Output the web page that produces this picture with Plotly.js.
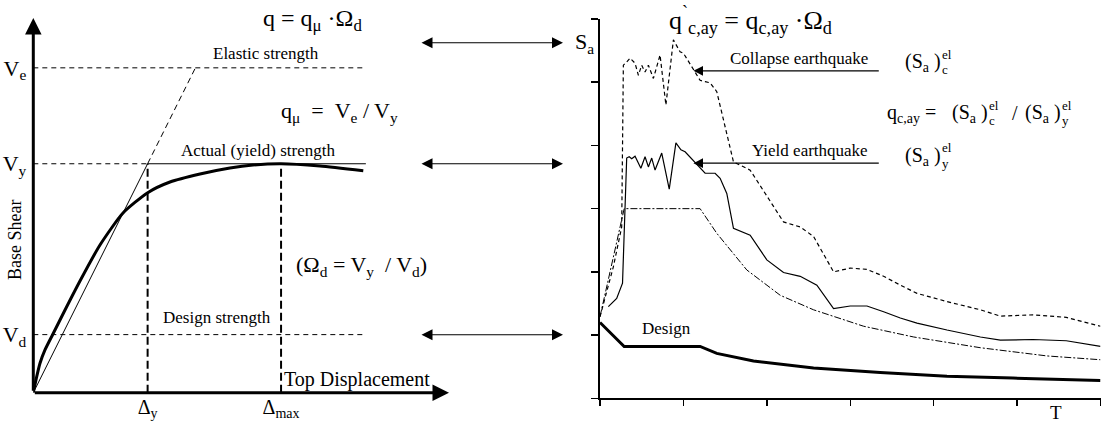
<!DOCTYPE html>
<html><head><meta charset="utf-8">
<script src="https://cdn.plot.ly/plotly-3.0.1.min.js"></script>
<style>html,body{margin:0;padding:0;background:#fff}</style>
</head><body><div id="chart" style="width:1115px;height:425px"></div>
<script>
// ---------- Left panel: capacity (pushover) curve, arbitrary units ----------
const levelNames  = ['V<sub>d</sub>', 'V<sub>y</sub>', 'V<sub>e</sub>'];
const levelValues = [15.5, 61.1, 86.7];          // design, yield, elastic base shear
const dispNames   = ['Δ<sub>y</sub>', 'Δ<sub>max</sub>'];
const dispValues  = [27.5, 59.6];                // yield & max top displacement
const levelLineEnd = 80;                         // end of the strength lines
const elasticTopDisp = 39.0;                     // elastic line reaching Ve
const capDisp  = [0, 0.82, 1.61, 2.81, 4.67, 7.63, 11.23, 16.04, 21.58, 27.52, 32.88, 40.1, 47.31, 52.84, 59.59, 68.97, 79.38];
const capShear = [0, 4.27, 7.85, 11.41, 15.53, 22.07, 29.81, 39.42, 47.96, 53.38, 56.23, 58.37, 59.97, 60.77, 61.12, 60.5, 59.25];

// ---------- Right panel: acceleration spectra Sa(T) ----------
const designT  = [0, 0.29, 1.2, 1.4, 1.84, 2.56, 3.36, 4.16, 4.95, 6.0];
const designSa = [1.2, 0.82, 0.82, 0.71, 0.59, 0.48, 0.41, 0.35, 0.32, 0.28];
const elasticT  = [0, 0.29, 1.2, 1.4, 1.76, 2.16, 2.56, 3.16, 3.76, 4.56, 5.36, 6.0];
const elasticSa = [1.29, 3.0, 3.0, 2.61, 2.03, 1.63, 1.4, 1.14, 0.97, 0.8, 0.67, 0.61];
const yieldT  = [0.1, 0.2, 0.27, 0.31, 0.32, 0.35, 0.38, 0.42, 0.49, 0.54, 0.58, 0.62, 0.66, 0.74, 0.83, 0.91, 0.97, 1.02, 1.15, 1.26, 1.38, 1.44, 1.52, 1.6, 1.8, 2.0, 2.2, 2.4, 2.6, 2.8, 3.0, 3.2, 3.4, 3.6, 3.8, 4.16, 4.56, 4.8, 5.19, 5.59, 6.0];
const yieldSa = [1.45, 1.58, 1.82, 3.69, 3.8, 3.82, 3.79, 3.83, 3.64, 3.82, 3.66, 3.8, 3.61, 3.88, 3.31, 4.04, 3.93, 3.9, 3.72, 3.56, 3.56, 3.48, 3.24, 2.69, 2.58, 2.19, 1.99, 1.93, 1.79, 1.42, 1.46, 1.46, 1.37, 1.27, 1.19, 1.08, 0.97, 0.92, 0.93, 0.91, 0.82];
const collapseT  = [0, 0.16, 0.26, 0.28, 0.32, 0.36, 0.42, 0.46, 0.5, 0.54, 0.58, 0.64, 0.72, 0.79, 0.88, 0.96, 1.0, 1.12, 1.2, 1.26, 1.32, 1.4, 1.52, 1.6, 1.8, 2.0, 2.2, 2.4, 2.56, 2.8, 3.0, 3.2, 3.4, 3.6, 3.8, 4.16, 4.56, 4.8, 5.19, 5.59, 6.0];
const collapseSa = [1.29, 2.08, 2.71, 5.27, 5.32, 5.38, 5.3, 5.11, 5.27, 5.16, 5.27, 5.06, 5.43, 4.64, 5.67, 5.48, 5.46, 5.19, 5.03, 5.01, 4.99, 4.85, 4.19, 3.74, 3.61, 3.19, 2.79, 2.71, 2.56, 2.0, 2.06, 2.04, 1.93, 1.79, 1.66, 1.53, 1.4, 1.3, 1.32, 1.28, 1.14];
const saTicks = [0, 1, 2, 3, 4, 5, 6];
const tTicks  = [0, 1, 2, 3, 4, 5, 6];

// ---------- helpers ----------
const W = 1115, H = 425;
const fx = x => x / W, fy = y => 1 - y / H;
const SERIF = '"Liberation Serif", "Times New Roman", serif';
const K = '#000';
const [Vd, Vy, Ve] = levelValues;
const [Dy, Dmax] = dispValues;

const traces = [
  {x: [0, levelLineEnd, null, 0, Dy, null, 0, levelLineEnd], y: [Vd, Vd, null, Vy, Vy, null, Ve, Ve],
   xaxis: 'x', yaxis: 'y', mode: 'lines', line: {color: K, width: 1, dash: '5px,4px'}},
  {x: [Dy, levelLineEnd], y: [Vy, Vy], xaxis: 'x', yaxis: 'y', mode: 'lines', line: {color: K, width: 1}},
  {x: [Dy, Dy, null, Dmax, Dmax], y: [0, Vy, null, 0, Vy], xaxis: 'x', yaxis: 'y', mode: 'lines',
   line: {color: K, width: 2, dash: '8px,4px'}},
  {x: [0, Dy], y: [0, Vy], xaxis: 'x', yaxis: 'y', mode: 'lines', line: {color: K, width: 1}},
  {x: [Dy, elasticTopDisp], y: [Vy, Ve], xaxis: 'x', yaxis: 'y', mode: 'lines', line: {color: K, width: 1, dash: '6px,4px'}},
  {x: capDisp, y: capShear, xaxis: 'x', yaxis: 'y', mode: 'lines', line: {color: K, width: 3, shape: 'spline', smoothing: 0.6}},
  {x: designT, y: designSa, xaxis: 'x2', yaxis: 'y2', mode: 'lines', line: {color: K, width: 3}},
  {x: elasticT, y: elasticSa, xaxis: 'x2', yaxis: 'y2', mode: 'lines', line: {color: K, width: 1, dash: '7px,2px,2px,2px'}},
  {x: yieldT, y: yieldSa, xaxis: 'x2', yaxis: 'y2', mode: 'lines', line: {color: K, width: 1.2}},
  {x: collapseT, y: collapseSa, xaxis: 'x2', yaxis: 'y2', mode: 'lines', line: {color: K, width: 1.2, dash: '4px,3px'}}
];

function txt(text, x, y, size, opts) {
  return Object.assign({text: text, xref: 'paper', yref: 'paper', x: fx(x), y: fy(y), showarrow: false,
    xanchor: 'center', yanchor: 'middle', font: {family: SERIF, size: size, color: K}}, opts || {});
}
function saGroup(x, y, sub, size) {
  return [
    txt('(S<sub>a</sub> )', x, y, size, {xanchor: 'left'}),
    txt('el', x + 37, y - 8, 13, {xanchor: 'left'}),
    txt(sub, x + 37, y + 7, 13, {xanchor: 'left'})
  ];
}
function arrowAnn(extra) {
  return Object.assign({text: ' ', showarrow: true, arrowhead: 2, arrowcolor: K, font: {size: 1}}, extra);
}
function dbl(y) {
  return arrowAnn({xref: 'paper', yref: 'paper', x: fx(563), y: fy(y), ax: -143, ay: 0,
    arrowside: 'end+start', startarrowhead: 2, arrowsize: 2, startarrowsize: 2, arrowwidth: 1.1});
}

const annotations = [
  arrowAnn({xref: 'x', yref: 'y', axref: 'x', ayref: 'y', x: 0, y: 100, ax: 0, ay: 0, arrowsize: 1.1, arrowwidth: 3}),
  arrowAnn({xref: 'x', yref: 'y', axref: 'x', ayref: 'y', x: 100, y: 0, ax: 0, ay: 0, arrowsize: 1.1, arrowwidth: 3}),
  txt('q = q<sub>μ</sub> ·Ω<sub>d</sub>', 312, 20, 24),
  txt('Elastic strength', 266, 53, 17),
  txt('q<sub>μ</sub>  =  V<sub>e</sub> / V<sub>y</sub>', 339, 112, 22),
  txt('Actual (yield) strength', 258, 150, 17),
  txt('(Ω<sub>d</sub> = V<sub>y</sub>  / V<sub>d</sub>)', 361, 266, 22),
  txt('Design strength', 217, 317, 17),
  txt('Top Displacement', 357, 379, 20),
  txt('Base Shear', 15, 240, 18, {textangle: -90}),
  dbl(42.7), dbl(163.7), dbl(334.7),
  txt('S<sub>a</sub>', 584, 43, 22),
  txt('T', 1056, 412, 19),
  txt('q<sup>`</sup><sub>c,ay</sub> = q<sub>c,ay</sub> ·Ω<sub>d</sub>', 750, 20, 26),
  txt('Collapse earthquake', 870, 58, 17, {xanchor: 'right'}),
  txt('Yield earthquake', 870, 150, 17, {xanchor: 'right'}),
  txt('Design', 666, 328, 17),
  arrowAnn({xref: 'x2', yref: 'y2', axref: 'x2', ayref: 'y2', x: 1.12, y: 5.18, ax: 3.36, ay: 5.18, arrowsize: 1.6, arrowwidth: 1.2}),
  arrowAnn({xref: 'x2', yref: 'y2', axref: 'x2', ayref: 'y2', x: 1.12, y: 3.72, ax: 3.36, ay: 3.72, arrowsize: 1.6, arrowwidth: 1.2}),
  txt('q<sub>c,ay</sub> =', 885, 113, 20, {xanchor: 'left'}),
  ...saGroup(950, 113, 'c', 20),
  txt('/', 1015, 113, 20),
  ...saGroup(1023, 113, 'y', 20),
  ...saGroup(903, 62, 'c', 20),
  ...saGroup(903, 156, 'y', 20)
];

const layout = {
  width: W, height: H, margin: {l: 0, r: 0, t: 0, b: 0},
  paper_bgcolor: '#fff', plot_bgcolor: 'rgba(0,0,0,0)', showlegend: false,
  font: {family: SERIF, color: K},
  xaxis: {domain: [fx(33.3), fx(449)], range: [0, 100], anchor: 'y', showgrid: false, zeroline: false,
    showline: false, ticks: '', tickvals: dispValues, ticktext: dispNames, tickfont: {family: SERIF, size: 20, color: K},
    ticklabelstandoff: 0, fixedrange: true},
  yaxis: {domain: [fy(392.7), fy(18)], range: [0, 100], anchor: 'x', showgrid: false, zeroline: false,
    showline: false, ticks: '', tickvals: levelValues, ticktext: levelNames, tickfont: {family: SERIF, size: 22, color: K},
    ticklabelstandoff: 6, fixedrange: true},
  xaxis2: {domain: [fx(600), fx(1100.5)], range: [0, 6], anchor: 'y2', showgrid: false, zeroline: false,
    showline: true, linewidth: 2, linecolor: K, ticks: 'outside', ticklen: 6, tickwidth: 1.5, tickcolor: K,
    tickvals: tTicks, showticklabels: false, fixedrange: true},
  yaxis2: {domain: [fy(398.3), fy(19)], range: [0, 6], anchor: 'x2', showgrid: false, zeroline: false,
    showline: true, linewidth: 2.5, linecolor: K, ticks: 'outside', ticklen: 7, tickwidth: 1.5, tickcolor: K,
    tickvals: saTicks, showticklabels: false, fixedrange: true},
  annotations: annotations
};

Plotly.newPlot('chart', traces, layout, {staticPlot: true, displayModeBar: false});
</script></body></html>
